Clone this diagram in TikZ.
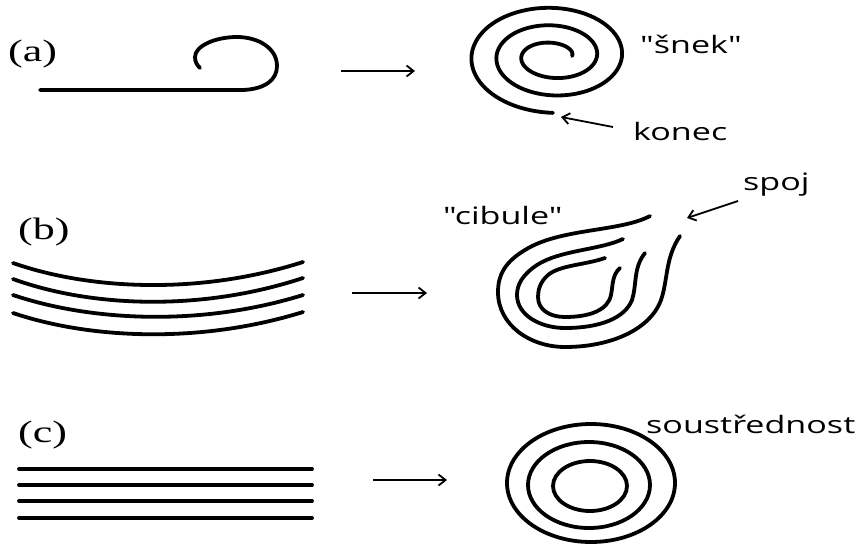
\documentclass[tikz,border=0pt]{standalone}
\usepackage{fontspec}
\usepackage{graphicx}
\setmainfont{Liberation Serif}
\newfontfamily\labelfont{Open Sans}
\usetikzlibrary{arrows.meta}
\newcommand{\widetext}[1]{\scalebox{1.42}[1]{#1}}
\begin{document}
\begin{tikzpicture}[x=1pt,y=-1pt,
  stroke/.style={line width=3.8pt, line cap=round},
  pointer/.style={line width=1.8pt, -{Straight Barb[length=7pt,width=11pt]}},
  tag/.style={font=\fontsize{24}{24}\selectfont\labelfont, inner sep=0pt, anchor=base west},
  panel/.style={font=\fontsize{31}{31}\selectfont, inner sep=0pt, anchor=base west}]
\useasboundingbox (0,0) rectangle (855,544);

% panel labels
\node[panel] (pa) at (8,61) {\widetext{(a)}};
\node[panel] (pb) at (18,239) {\widetext{(b)}};
\node[panel] (pc) at (18,442) {\widetext{(c)}};

% (a) line with hook
\draw[stroke] (40,90) -- (243,90) .. controls (265,89) and (277,80) .. (277,66)
  .. controls (277,48) and (258,37) .. (237,37)
  .. controls (215,37) and (195,46) .. (195,57)
  .. controls (195,62) and (197,65) .. (200,68);

% (a) spiral
\draw[stroke] plot[domain=0:990, samples=260, variable=\t]
  ({553+(19+\t/14.4)*cos(\t)}, {56-(8.75+\t/20.57)*sin(\t)});

% (b) curved lines
\draw[stroke] (13,263) .. controls (90,290) and (200,295) .. (303,262);
\draw[stroke] (13,279) .. controls (90,307) and (200,312) .. (303,278);
\draw[stroke] (13,295) .. controls (90,321) and (200,327) .. (303,295);
\draw[stroke] (13,313) .. controls (90,339) and (200,344) .. (303,312);

% (b) onion
\draw[stroke] (650,216) .. controls (620,232) and (560,228) .. (525,250)
  .. controls (505,262) and (498,275) .. (498,292)
  .. controls (498,325) and (530,347) .. (565,347)
  .. controls (610,347) and (650,330) .. (661,300)
  .. controls (668,280) and (665,258) .. (680,236);
\draw[stroke] (623,239) .. controls (600,250) and (560,250) .. (537,265)
  .. controls (522,275) and (517,285) .. (517,295)
  .. controls (517,315) and (540,328) .. (565,328)
  .. controls (600,328) and (625,318) .. (632,300)
  .. controls (637,285) and (633,268) .. (645,253);
\draw[stroke] (605,258) .. controls (585,265) and (560,265) .. (548,275)
  .. controls (540,282) and (538,290) .. (538,297)
  .. controls (538,310) and (550,317) .. (565,317)
  .. controls (590,317) and (608,310) .. (611,295)
  .. controls (613,285) and (612,275) .. (620,268);

% (c) straight lines
\draw[stroke] (19,469) -- (312,469);
\draw[stroke] (19,485) -- (312,485);
\draw[stroke] (19,501) -- (312,501);
\draw[stroke] (19,518) -- (312,518);

% (c) concentric
\draw[stroke] (591,483) ellipse [x radius=84pt, y radius=59pt];
\draw[stroke] (589,485) ellipse [x radius=61pt, y radius=43pt];
\draw[stroke] (590,486) ellipse [x radius=37pt, y radius=25pt];

% main arrows
\coordinate (aS) at (341,71); \coordinate (aE) at (415,71);
\coordinate (bS) at (352,293); \coordinate (bE) at (427,293);
\coordinate (cS) at (373,480); \coordinate (cE) at (447,480);
\draw[pointer] (aS) -- (aE);
\draw[pointer] (bS) -- (bE);
\draw[pointer] (cS) -- (cE);

% text labels
\node[tag] (snek) at (640,53) {\widetext{"šnek"}};
\node[tag] (konec) at (633,140) {\widetext{konec}};
\node[tag] (spoj) at (743,190) {\widetext{spoj}};
\node[tag] (cibule) at (443,224) {\widetext{"cibule"}};
\node[tag] (soust) at (646,433) {\widetext{soustřednost}};

% label pointers
\coordinate (konecTail) at (613,127); \coordinate (konecTip) at (561,117);
\coordinate (spojTail) at (738,201); \coordinate (spojTip) at (687,218);
\draw[pointer] (konecTail) -- (konecTip);
\draw[pointer] (spojTail) -- (spojTip);
\end{tikzpicture}
\end{document}
